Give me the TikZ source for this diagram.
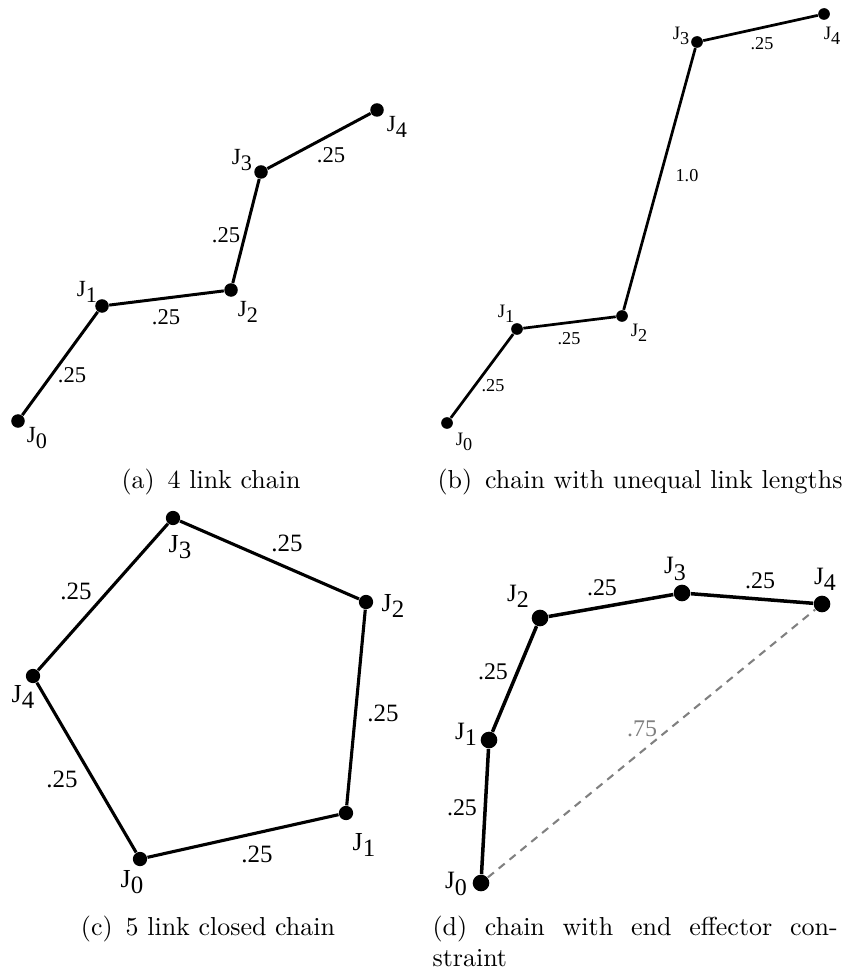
\documentclass[tikz,border=0pt]{standalone}
\usepackage{fontspec}
\usepackage{graphicx}
\newfontfamily\tms{Liberation Serif}
\newcommand{\jt}[1]{J\raisebox{-.55ex}{\scalebox{.96}{#1}}}

\begin{document}
\begin{tikzpicture}[x=0.385pt,y=-0.385pt,
  jdot/.style={circle,fill=black,inner sep=0pt,minimum size=#1},
  link/.style={draw=black,line width=#1},
  lbl/.style={inner sep=0pt,font=\tms\fontsize{#1}{#1}\selectfont},
  subcap/.style={inner sep=0pt,anchor=base},
  reach/.style={draw=black!50,line width=.8pt,dash pattern=on 3pt off 2.4pt}]

\useasboundingbox (0,0) rectangle (848,971);

\node[jdot=5.2pt] (a0) at (18,421) {};  \node[jdot=5.2pt] (a1) at (102,306) {};
\node[jdot=5.2pt] (a2) at (231,290) {}; \node[jdot=5.2pt] (a3) at (261,172) {};
\node[jdot=5.2pt] (a4) at (377,110) {};
\draw[link=1.15pt] (a0) -- (a1) -- (a2) -- (a3) -- (a4);
\node[lbl=8.9] (ja0) at (37,438) {\jt{0}};  \node[lbl=8.9] (ja1) at (87,292) {\jt{1}};
\node[lbl=8.9] (ja2) at (248,312) {\jt{2}}; \node[lbl=8.9] (ja3) at (242,160) {\jt{3}};
\node[lbl=8.9] (ja4) at (397,127) {\jt{4}};
\node[lbl=8.7] (la1) at (72,375) {.25};  \node[lbl=8.7] (la2) at (166,317) {.25};
\node[lbl=8.7] (la3) at (226,235) {.25}; \node[lbl=8.7] (la4) at (331,155) {.25};
\node[subcap] (capa) at (211,488) {(a)\enspace 4 link chain};

\node[jdot=4.5pt] (b0) at (447,423) {}; \node[jdot=4.5pt] (b1) at (517,329) {};
\node[jdot=4.5pt] (b2) at (622,316) {}; \node[jdot=4.5pt] (b3) at (697,42) {};
\node[jdot=4.5pt] (b4) at (824,14) {};
\draw[link=1.05pt] (b0) -- (b1) -- (b2) -- (b3) -- (b4);
\node[lbl=7.3] (jb0) at (464,442) {\jt{0}}; \node[lbl=7.3] (jb1) at (506,314) {\jt{1}};
\node[lbl=7.3] (jb2) at (639,333) {\jt{2}}; \node[lbl=7.3] (jb3) at (681,36) {\jt{3}};
\node[lbl=7.3] (jb4) at (832,36) {\jt{4}};
\node[lbl=7] (lb1) at (493,386) {.25}; \node[lbl=7] (lb2) at (569,339) {.25};
\node[lbl=7] (lb3) at (687,176) {1.0}; \node[lbl=7] (lb4) at (762,44) {.25};
\node[subcap] (capb) at (640,488) {(b)\enspace chain with unequal link lengths};

\node[jdot=5.5pt] (c0) at (140,859) {}; \node[jdot=5.5pt] (c1) at (346,813) {};
\node[jdot=5.5pt] (c2) at (366,602) {}; \node[jdot=5.5pt] (c3) at (173,518) {};
\node[jdot=5.5pt] (c4) at (33,676) {};
\draw[link=1.2pt] (c0) -- (c1) -- (c2) -- (c3) -- (c4) -- (c0);
\node[lbl=10] (jc0) at (132,882) {\jt{0}}; \node[lbl=10] (jc1) at (364,845) {\jt{1}};
\node[lbl=10] (jc2) at (393,606) {\jt{2}}; \node[lbl=10] (jc3) at (180,547) {\jt{3}};
\node[lbl=10] (jc4) at (23,697) {\jt{4}};
\node[lbl=9.6] (lc1) at (257,854) {.25}; \node[lbl=9.6] (lc2) at (383,713) {.25};
\node[lbl=9.6] (lc3) at (287,543) {.25}; \node[lbl=9.6] (lc4) at (76,591) {.25};
\node[lbl=9.6] (lc5) at (62,779) {.25};
\node[subcap] (capc) at (208,935) {(c)\enspace 5 link closed chain};

\node[jdot=6.4pt] (d0) at (481,883) {}; \node[jdot=6.4pt] (d1) at (489,740) {};
\node[jdot=6.4pt] (d2) at (540,618) {}; \node[jdot=6.4pt] (d3) at (682,593) {};
\node[jdot=6.4pt] (d4) at (822,604) {};
\draw[reach] (d0) -- (d4);
\draw[link=1.35pt] (d0) -- (d1) -- (d2) -- (d3) -- (d4);
\node[lbl=9.6] (jd0) at (456,884) {\jt{0}}; \node[lbl=9.6] (jd1) at (466,734) {\jt{1}};
\node[lbl=9.6] (jd2) at (518,596) {\jt{2}}; \node[lbl=9.6] (jd3) at (675,569) {\jt{3}};
\node[lbl=9.6] (jd4) at (825,579) {\jt{4}};
\node[lbl=9.2] (ld1) at (462,808) {.25}; \node[lbl=9.2] (ld2) at (493,672) {.25};
\node[lbl=9.2] (ld3) at (602,588) {.25}; \node[lbl=9.2] (ld4) at (760,581) {.25};
\node[lbl=9.2,text=black!50] (ld5) at (642,729) {.75};
\node[subcap,anchor=base west] (capd) at (432,935) {\makebox[156pt][s]{(d) chain with end effector con-}};
\node[subcap,anchor=base west] (capd2) at ([yshift=-12pt]capd.base west) {straint};
\end{tikzpicture}
\end{document}
